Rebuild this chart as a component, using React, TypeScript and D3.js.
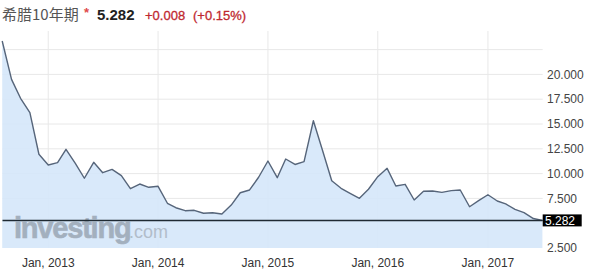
import React from "react";
import * as d3 from "d3";

const startMonth = new Date(2012, 7, 1);
const values: number[] = [
  23.37, 19.5, 17.59, 16.14, 11.95, 10.87, 11.1, 12.45, 11.04, 9.53,
  11.14, 10.09, 10.43, 9.79, 8.48, 8.95, 8.62, 8.72, 7.01, 6.56,
  6.26, 6.3, 6.0, 6.06, 5.93, 6.83, 8.07, 8.35, 9.63, 11.27,
  9.59, 11.47, 10.92, 11.2, 15.33, 12.38, 9.28, 8.52, 8.01, 7.51,
  8.42, 9.69, 10.53, 8.75, 8.92, 7.34, 8.22, 8.25, 8.11, 8.28,
  8.35, 6.66, 7.27, 7.87, 7.24, 6.94, 6.4, 6.06, 5.47, 5.282,
];
const yTicks = [2.5, 7.5, 10, 12.5, 15, 17.5, 20];
const yGrid = [7.5, 10, 12.5, 15, 17.5, 20, 22.5];
const xTickYears = [2013, 2014, 2015, 2016, 2017];
const lastValue = 5.282;
const titleName = "希腊10年期";
const titlePrice = "5.282";
const titleChange = "+0.008";
const titlePct = "(+0.15%)";

const dates = values.map((_, i) => d3.timeMonth.offset(startMonth, i));
const data = values.map((v, i) => ({ d: dates[i], v }));

export default function App() {
  const W = 600, H = 278;
  const left = 2.5, right = 542.7, top = 31, bottom = 248;
  const x = d3.scaleTime()
    .domain([new Date(2012, 7, 2), new Date(2017, 6, 2)])
    .range([left, right]);
  const y = d3.scaleLinear().domain([2.5, 2.5 + (bottom - top) / 9.92]).range([bottom, top]);
  const line = d3.line<{ d: Date; v: number }>().x(p => x(p.d)).y(p => y(p.v));
  const area = d3.area<{ d: Date; v: number }>().x(p => x(p.d)).y0(bottom).y1(p => y(p.v));
  const fmt = d3.format(".3f");
  const font = "'Liberation Sans', Arial, sans-serif";
  return (
    <svg width={W} height={H} style={{ position: "absolute", left: 0, top: 0, background: "#fff" }}>
      <text x={2} y={20} fontSize={15} fill="#555" fontFamily="'Noto Sans CJK SC', sans-serif">{titleName}</text>
      <text x={84} y={17} fontSize={13} fill="#e04a4a" fontWeight="bold" fontFamily={font}>*</text>
      <text x={97} y={20} fontSize={15} fontWeight="bold" fill="#222" fontFamily={font}>{titlePrice}</text>
      <text x={145} y={20} fontSize={13} fill="#c0282f" fontFamily={font} stroke="#c0282f" strokeWidth={0.3}>{titleChange}</text>
      <text x={193} y={20} fontSize={13} fill="#c0282f" fontFamily={font} stroke="#c0282f" strokeWidth={0.3}>{titlePct}</text>
      {yGrid.map(v => (
        <line key={"g" + v} x1={left} x2={right} y1={y(v)} y2={y(v)} stroke="#e8e8e8" strokeWidth={1} />
      ))}
      {xTickYears.map(yr => (
        <line key={"v" + yr} x1={x(new Date(yr, 0, 1))} x2={x(new Date(yr, 0, 1))} y1={top} y2={bottom} stroke="#e8e8e8" strokeWidth={1} />
      ))}
      <path d={area(data) || ""} fill="#d5e7fa" opacity={0.9} />
      <text x={14} y={238} fontFamily={font} fontWeight="bold" fontSize={29} fill="#96a2b0" opacity={0.8} letterSpacing={-1.2} stroke="#96a2b0" strokeWidth={0.6}>investing</text>
      <text x={129} y={238} fontFamily={font} fontSize={18} fill="#a9b3bf" opacity={0.8}>.com</text>
      <path d={line(data) || ""} fill="none" stroke="#56657a" strokeWidth={1.4} strokeLinejoin="round" />
      <line x1={left} x2={right} y1={y(lastValue)} y2={y(lastValue)} stroke="#1f2a33" strokeWidth={1.5} />
      {yTicks.map(v => (
        <text key={"t" + v} x={547} y={y(v)} dy="0.35em" fontFamily={font} fontSize={12} fill="#444">{fmt(v)}</text>
      ))}
      <rect x={542.7} y={y(lastValue) - 6} width={39} height={12} fill="#000" />
      <text x={545} y={y(lastValue)} dy="0.35em" fontFamily={font} fontSize={12} fill="#fff">{fmt(lastValue)}</text>
      {xTickYears.map(yr => (
        <text key={"x" + yr} x={x(new Date(yr, 0, 1))} y={267} textAnchor="middle" fontFamily={font} fontSize={12} fill="#333">{`Jan, ${yr}`}</text>
      ))}
    </svg>
  );
}
